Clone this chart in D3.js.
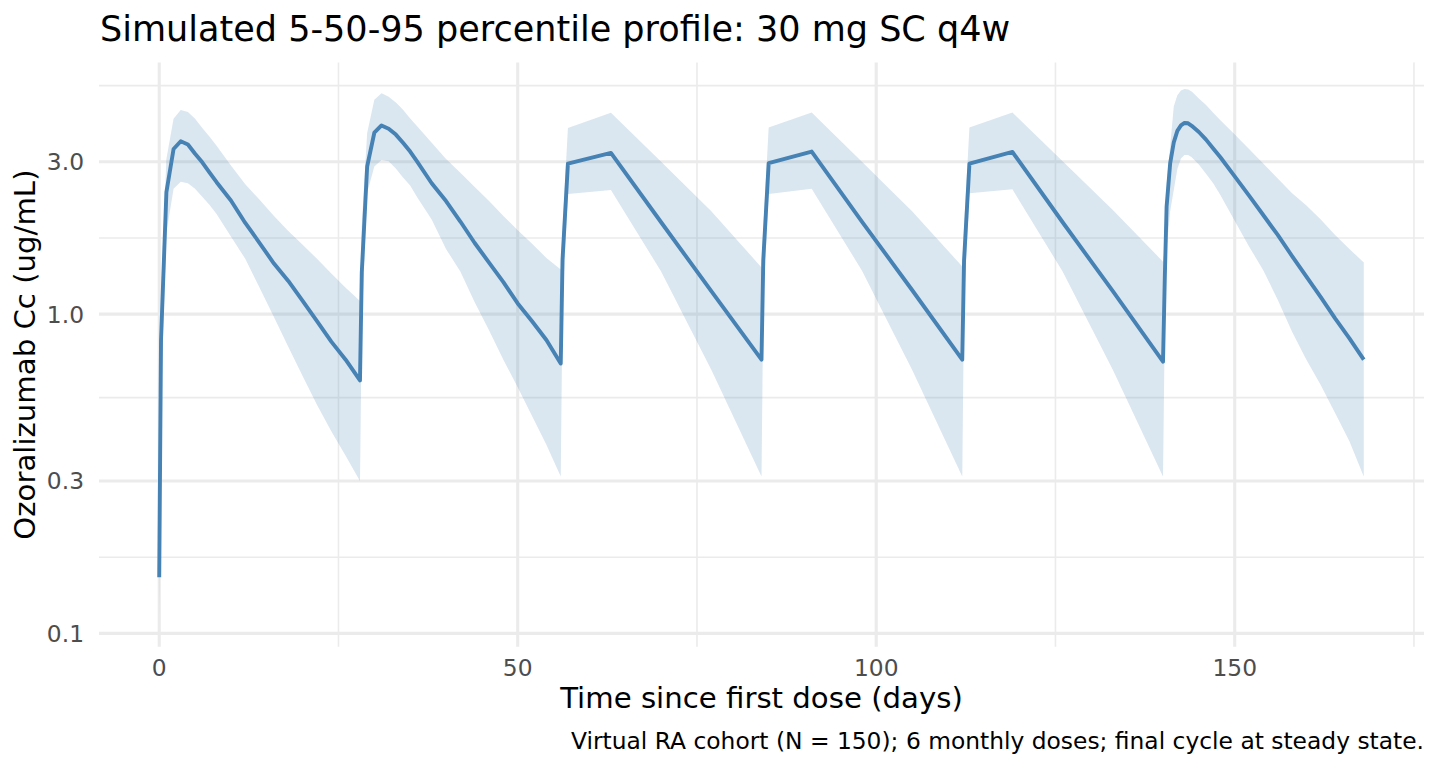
<!DOCTYPE html>
<html>
<head>
<meta charset="utf-8">
<script src="https://cdn.jsdelivr.net/npm/d3@7"></script>
<style>
  body { margin: 0; background: #fff; }
  svg text { font-family: "DejaVu Sans", sans-serif; }
</style>
</head>
<body>
<script>
// Sampling times (days); one line per dosing cycle
const timeDays = [
  0, 0.25, 1, 2, 3, 4, 5, 6, 7, 8, 10, 12, 14, 16, 18, 20, 22, 24, 26, 28,
  28.25, 29, 30, 31, 32, 33, 34, 35, 36, 38, 40, 42, 44, 46, 48, 50, 52, 54, 56,
  56.25, 57, 63, 70, 77, 84,
  84.25, 85, 91, 98, 105, 112,
  112.25, 113, 119, 126, 133, 140,
  140.25, 140.5, 141, 141.5, 142, 142.5, 143, 143.5, 144, 145, 146, 147, 148,
  150, 152, 154, 156, 158, 160, 162, 164, 166, 168
];

// 50th percentile concentration (ug/mL)
const p50 = [
  0.15, 0.83, 2.41, 3.29, 3.48, 3.40, 3.18, 2.99, 2.78, 2.59, 2.27, 1.93, 1.67, 1.44, 1.27, 1.10, 0.95, 0.82, 0.72, 0.62,
  1.35, 2.90, 3.70, 3.90, 3.81, 3.65, 3.44, 3.23, 3.00, 2.57, 2.26, 1.95, 1.67, 1.45, 1.26, 1.08, 0.95, 0.83, 0.70,
  1.48, 2.96, 3.20, 1.94, 1.18, 0.72,
  1.48, 2.97, 3.23, 1.95, 1.19, 0.72,
  1.47, 2.96, 3.22, 1.94, 1.18, 0.71,
  1.30, 2.17, 2.97, 3.45, 3.75, 3.90, 3.97, 3.96, 3.89, 3.72, 3.52, 3.30, 3.10,
  2.70, 2.35, 2.04, 1.77, 1.52, 1.31, 1.13, 0.97, 0.84, 0.72
];

// 5th percentile
const p05 = [
  0.11, 0.55, 1.80, 2.47, 2.60, 2.57, 2.47, 2.33, 2.20, 2.06, 1.75, 1.49, 1.21, 0.98, 0.79, 0.64, 0.52, 0.43, 0.36, 0.30,
  0.95, 2.40, 2.90, 3.04, 3.01, 2.86, 2.68, 2.53, 2.32, 1.98, 1.60, 1.36, 1.09, 0.89, 0.72, 0.59, 0.48, 0.39, 0.31,
  1.10, 2.38, 2.45, 1.36, 0.67, 0.31,
  1.10, 2.38, 2.47, 1.37, 0.67, 0.31,
  1.10, 2.39, 2.46, 1.36, 0.67, 0.31,
  0.95, 1.60, 2.10, 2.45, 2.85, 3.07, 3.15, 3.15, 3.10, 2.94, 2.75, 2.57, 2.36,
  1.96, 1.63, 1.37, 1.11, 0.88, 0.72, 0.60, 0.49, 0.40, 0.31
];

// 95th percentile
const p95 = [
  0.20, 1.15, 3.06, 4.09, 4.36, 4.30, 4.09, 3.83, 3.60, 3.37, 2.92, 2.55, 2.28, 2.03, 1.82, 1.65, 1.49, 1.34, 1.21, 1.10,
  1.90, 3.69, 4.69, 4.92, 4.80, 4.60, 4.37, 4.10, 3.87, 3.44, 3.06, 2.77, 2.50, 2.26, 2.03, 1.83, 1.66, 1.50, 1.38,
  1.85, 3.83, 4.27, 3.00, 2.10, 1.40,
  1.85, 3.84, 4.28, 3.00, 2.10, 1.41,
  1.86, 3.84, 4.28, 3.01, 2.12, 1.46,
  1.60, 2.55, 3.35, 4.47, 4.85, 5.02, 5.07, 5.05, 4.98, 4.74, 4.52, 4.27, 4.05,
  3.65, 3.29, 2.96, 2.66, 2.39, 2.19, 1.98, 1.77, 1.60, 1.45
];

const xTicks = [0, 50, 100, 150];
const yTicks = [0.1, 0.3, 1, 3];

const titleText = "Simulated 5-50-95 percentile profile: 30 mg SC q4w";
const xLabel = "Time since first dose (days)";
const yLabel = "Ozoralizumab Cc (ug/mL)";
const captionText = "Virtual RA cohort (N = 150); 6 monthly doses; final cycle at steady state.";

const W = 1440, H = 768;
const panel = { left: 99, right: 1424, top: 62.5, bottom: 646.7 };
const baseSize = 29.2;

const data = timeDays.map((t, i) => ({ t: t, lo: p05[i], med: p50[i], hi: p95[i] }));

// ggplot-like 5% expansion on both axes
const xExt = d3.extent(timeDays);
const xPad = (xExt[1] - xExt[0]) * 0.05;
const x = d3.scaleLinear()
  .domain([xExt[0] - xPad, xExt[1] + xPad])
  .range([panel.left, panel.right]);

const allY = p05.concat(p95, p50);
const lMin = Math.log10(d3.min(allY)), lMax = Math.log10(d3.max(allY));
const lPad = (lMax - lMin) * 0.05;
const y = d3.scaleLog()
  .domain([Math.pow(10, lMin - lPad), Math.pow(10, lMax + lPad)])
  .range([panel.bottom, panel.top]);

// minor breaks halfway between majors (in transformed space)
function minorBreaks(majors, tf, inv, lo, hi) {
  const b = majors.map(tf);
  const ext = [b[0] - (b[1] - b[0])].concat(b, [b[b.length - 1] + (b[b.length - 1] - b[b.length - 2])]);
  const out = [];
  for (let i = 0; i < ext.length - 1; i++) out.push(inv((ext[i] + ext[i + 1]) / 2));
  return out.filter(v => v >= lo && v <= hi);
}
const yDom = y.domain(), xDom = x.domain();
const yMinor = minorBreaks(yTicks, Math.log10, v => Math.pow(10, v), yDom[0], yDom[1]);
const xMinor = minorBreaks(xTicks, v => v, v => v, xDom[0], xDom[1]);

const svg = d3.select("body").append("svg")
  .attr("width", W)
  .attr("height", H);

const grid = svg.append("g");

grid.selectAll(".ymin").data(yMinor).enter().append("line")
  .attr("x1", panel.left).attr("x2", panel.right)
  .attr("y1", d => y(d)).attr("y2", d => y(d))
  .attr("stroke", "#EBEBEB").attr("stroke-width", 1.6);

grid.selectAll(".xmin").data(xMinor).enter().append("line")
  .attr("y1", panel.top).attr("y2", panel.bottom)
  .attr("x1", d => x(d)).attr("x2", d => x(d))
  .attr("stroke", "#EBEBEB").attr("stroke-width", 1.6);

grid.selectAll(".ymaj").data(yTicks).enter().append("line")
  .attr("x1", panel.left).attr("x2", panel.right)
  .attr("y1", d => y(d)).attr("y2", d => y(d))
  .attr("stroke", "#EBEBEB").attr("stroke-width", 3.1);

grid.selectAll(".xmaj").data(xTicks).enter().append("line")
  .attr("y1", panel.top).attr("y2", panel.bottom)
  .attr("x1", d => x(d)).attr("x2", d => x(d))
  .attr("stroke", "#EBEBEB").attr("stroke-width", 3.1);

// percentile ribbon
const area = d3.area()
  .x(d => x(d.t))
  .y0(d => y(d.lo))
  .y1(d => y(d.hi));

svg.append("path")
  .datum(data)
  .attr("d", area)
  .attr("fill", "steelblue")
  .attr("fill-opacity", 0.2);

// median line
const line = d3.line()
  .x(d => x(d.t))
  .y(d => y(d.med));

svg.append("path")
  .datum(data)
  .attr("d", line)
  .attr("fill", "none")
  .attr("stroke", "steelblue")
  .attr("stroke-width", 3.9)
  .attr("stroke-linejoin", "round");

// axis labels
const fmtY = d3.format(".1f");
svg.selectAll(".ytl").data(yTicks).enter().append("text")
  .attr("x", panel.left - 15)
  .attr("y", d => y(d))
  .attr("dy", "0.36em")
  .attr("text-anchor", "end")
  .attr("font-size", baseSize * 0.8)
  .attr("fill", "#4D4D4D")
  .text(d => fmtY(d));

svg.selectAll(".xtl").data(xTicks).enter().append("text")
  .attr("x", d => x(d))
  .attr("y", 676)
  .attr("text-anchor", "middle")
  .attr("font-size", baseSize * 0.8)
  .attr("fill", "#4D4D4D")
  .text(d => d);

svg.append("text")
  .attr("x", (panel.left + panel.right) / 2)
  .attr("y", 707.5)
  .attr("text-anchor", "middle")
  .attr("font-size", baseSize)
  .attr("fill", "#000")
  .text(xLabel);

svg.append("text")
  .attr("transform", "translate(35," + ((panel.top + panel.bottom) / 2) + ") rotate(-90)")
  .attr("text-anchor", "middle")
  .attr("font-size", baseSize)
  .attr("fill", "#000")
  .text(yLabel);

svg.append("text")
  .attr("x", panel.left + 1)
  .attr("y", 41)
  .attr("font-size", baseSize * 1.2)
  .attr("fill", "#000")
  .text(titleText);

svg.append("text")
  .attr("x", panel.right)
  .attr("y", 749)
  .attr("text-anchor", "end")
  .attr("font-size", baseSize * 0.8)
  .attr("fill", "#000")
  .text(captionText);
</script>
</body>
</html>
